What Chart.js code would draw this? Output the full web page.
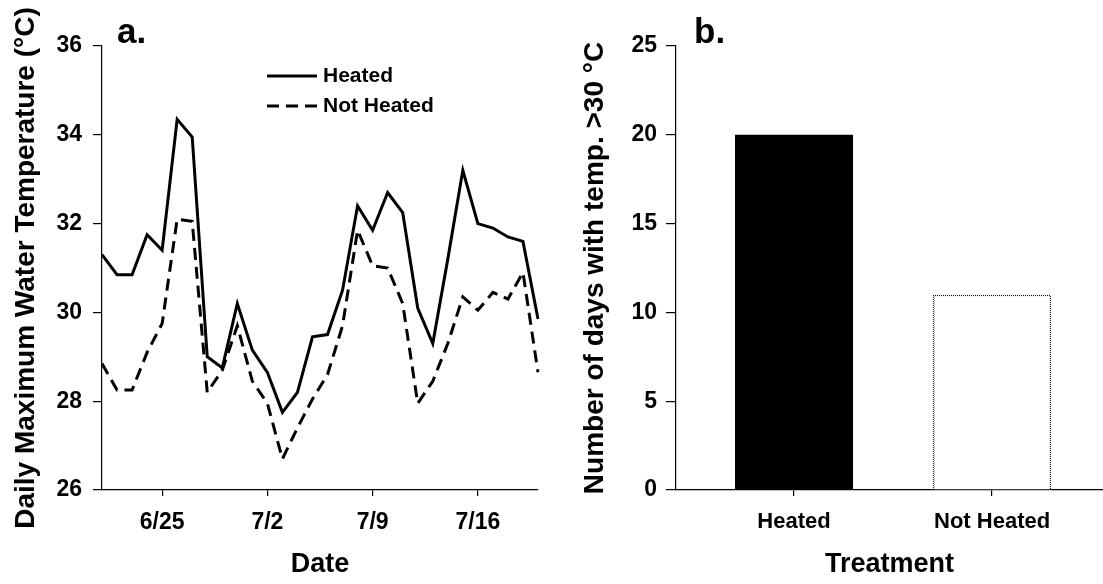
<!DOCTYPE html>
<html>
<head>
<meta charset="utf-8">
<title>Water temperature</title>
<script src="https://cdn.jsdelivr.net/npm/chart.js@4.4.0/dist/chart.umd.min.js"></script>
<style>
  html, body { margin: 0; padding: 0; background: #fff; }
  .panel { position: absolute; top: 0; height: 584px; }
  #left { left: 0; width: 560px; }
  #right { left: 560px; width: 543px; }
</style>
</head>
<body>
<div class="panel" id="left"><canvas id="tempChart"></canvas></div>
<div class="panel" id="right"><canvas id="daysChart"></canvas></div>
<script>
// daily maximum water temperature (°C)
const dates = [
  '6/21', '6/22', '6/23', '6/24', '6/25', '6/26', '6/27', '6/28', '6/29', '6/30',
  '7/1', '7/2', '7/3', '7/4', '7/5', '7/6', '7/7', '7/8', '7/9', '7/10',
  '7/11', '7/12', '7/13', '7/14', '7/15', '7/16', '7/17', '7/18', '7/19', '7/20',
];
const heated = [
  31.3, 30.85, 30.85, 31.75, 31.4, 34.35, 33.95, 29.0, 28.75, 30.2,
  29.15, 28.65, 27.75, 28.2, 29.45, 29.5, 30.5, 32.4, 31.85, 32.7,
  32.25, 30.1, 29.3, 31.2, 33.2, 32.0, 31.9, 31.7, 31.6, 29.85,
];
const notHeated = [
  28.85, 28.25, 28.25, 29.1, 29.75, 32.1, 32.05, 28.2, 28.7, 29.7,
  28.45, 27.95, 26.7, 27.4, 28.05, 28.6, 29.7, 31.85, 31.05, 31.0,
  30.2, 27.95, 28.45, 29.3, 30.35, 30.05, 30.45, 30.3, 30.9, 28.65,
];
const dateTicks = ['6/25', '7/2', '7/9', '7/16'];

// days with temperature above 30 °C
const treatments = ['Heated', 'Not Heated'];
const daysOver30 = [20, 11];

Chart.defaults.font.family = '"Liberation Sans", Arial, sans-serif';
Chart.defaults.color = '#000';

const tickFont = { size: 23, weight: 'bold' };
const xTitleFont = { size: 27, weight: 'bold' };
const yTitleFont = { size: 28, weight: 'bold' };

// "a." / "b." just right of the y axis
const panelLetter = {
  id: 'panelLetter',
  afterDraw(chart, args, opts) {
    const { ctx, chartArea } = chart;
    ctx.save();
    ctx.font = 'bold 35px "Liberation Sans", Arial, sans-serif';
    ctx.fillStyle = '#000';
    ctx.textBaseline = 'alphabetic';
    ctx.fillText(opts.text, chartArea.left + opts.dx, 43);
    ctx.restore();
  }
};

// line-style key drawn inside the plot
const lineKey = {
  id: 'lineKey',
  afterDatasetsDraw(chart, args, opts) {
    const { ctx } = chart;
    ctx.save();
    ctx.font = 'bold 21px "Liberation Sans", Arial, sans-serif';
    ctx.textBaseline = 'middle';
    chart.data.datasets.forEach((ds, i) => {
      const y = opts.y + i * opts.rowGap;
      ctx.strokeStyle = ds.borderColor;
      ctx.lineWidth = ds.borderWidth;
      ctx.setLineDash(ds.borderDash || []);
      ctx.beginPath();
      ctx.moveTo(opts.x, y);
      ctx.lineTo(opts.x + opts.lineLength, y);
      ctx.stroke();
      ctx.fillStyle = '#000';
      ctx.fillText(ds.label, opts.x + opts.lineLength + 6, y);
    });
    ctx.restore();
  }
};

new Chart(document.getElementById('tempChart'), {
  type: 'line',
  data: {
    labels: dates,
    datasets: [
      {
        label: 'Heated',
        data: heated,
        borderColor: '#000',
        borderWidth: 3,
        pointRadius: 0,
        fill: false,
      },
      {
        label: 'Not Heated',
        data: notHeated,
        borderColor: '#000',
        borderWidth: 3,
        borderDash: [12, 7],
        pointRadius: 0,
        fill: false,
      },
    ],
  },
  options: {
    responsive: true,
    maintainAspectRatio: false,
    animation: false,
    layout: { padding: { top: 46, right: 22, left: 0, bottom: 0 } },
    plugins: {
      legend: { display: false },
      tooltip: { enabled: false },
      panelLetter: { text: 'a.', dx: 15 },
      lineKey: { x: 267, y: 76, rowGap: 30, lineLength: 50 },
    },
    scales: {
      x: {
        type: 'category',
        offset: false,
        afterBuildTicks: (scale) => {
          scale.ticks = scale.ticks.filter((t) => dateTicks.includes(dates[t.value]));
        },
        afterFit: (scale) => { scale.height = 94; },
        ticks: { autoSkip: false, maxRotation: 0, font: tickFont, padding: 13 },
        grid: { drawOnChartArea: false, tickLength: 6, color: '#000', lineWidth: 1.2 },
        border: { color: '#000', width: 1.2 },
        title: { display: true, text: 'Date', font: xTitleFont, padding: { top: 0, bottom: 3 } },
      },
      y: {
        min: 26,
        max: 36,
        afterFit: (scale) => { scale.width = 102; },
        ticks: { stepSize: 2, font: tickFont, padding: 11 },
        grid: { drawOnChartArea: false, tickLength: 9, color: '#000', lineWidth: 1.2 },
        border: { color: '#000', width: 1.2 },
        title: {
          display: true,
          text: 'Daily Maximum Water Temperature (°C)',
          font: yTitleFont,
          padding: { top: 9, bottom: 0 },
        },
      },
    },
  },
  plugins: [panelLetter, lineKey],
});

// dotted outline for the open bar
const dots = document.createElement('canvas');
dots.width = 2;
dots.height = 2;
const dctx = dots.getContext('2d');
dctx.fillStyle = '#fff';
dctx.fillRect(0, 0, 2, 2);
dctx.fillStyle = '#000';
dctx.fillRect(0, 0, 1, 1);
dctx.fillRect(1, 1, 1, 1);
const dottedEdge = dctx.createPattern(dots, 'repeat');

new Chart(document.getElementById('daysChart'), {
  type: 'bar',
  data: {
    datasets: [
      {
        label: 'Days above 30 °C',
        data: treatments.map((t, i) => ({ x: i + 1, y: daysOver30[i] })),
        backgroundColor: ['#000', '#fff'],
        borderColor: ['#000', dottedEdge],
        borderWidth: [0, 1.5],
        categoryPercentage: 1,
        barPercentage: 0.596,
      },
    ],
  },
  options: {
    responsive: true,
    maintainAspectRatio: false,
    animation: false,
    layout: { padding: { top: 46, right: 0, left: 0, bottom: 0 } },
    plugins: {
      legend: { display: false },
      tooltip: { enabled: false },
      panelLetter: { text: 'b.', dx: 18 },
    },
    scales: {
      x: {
        type: 'linear',
        offset: false,
        min: 0.404,
        max: 2.56,
        afterBuildTicks: (scale) => {
          scale.ticks = treatments.map((t, i) => ({ value: i + 1 }));
        },
        afterFit: (scale) => { scale.height = 94; },
        ticks: {
          autoSkip: false,
          maxRotation: 0,
          font: { size: 22, weight: 'bold' },
          padding: 13,
          callback: (v) => treatments[v - 1] || '',
        },
        grid: { offset: false, drawOnChartArea: false, tickLength: 6, color: '#000', lineWidth: 1.2 },
        border: { color: '#000', width: 1.2 },
        title: { display: true, text: 'Treatment', font: xTitleFont, padding: { top: 0, bottom: 3 } },
      },
      y: {
        min: 0,
        max: 25,
        afterFit: (scale) => { scale.width = 116; },
        ticks: { stepSize: 5, font: tickFont, padding: 9 },
        grid: { drawOnChartArea: false, tickLength: 10, color: '#000', lineWidth: 1.2 },
        border: { color: '#000', width: 1.2 },
        title: {
          display: true,
          text: 'Number of days with temp. >30 °C',
          font: yTitleFont,
          padding: { top: 18, bottom: 0 },
        },
      },
    },
  },
  plugins: [panelLetter],
});
</script>
</body>
</html>
